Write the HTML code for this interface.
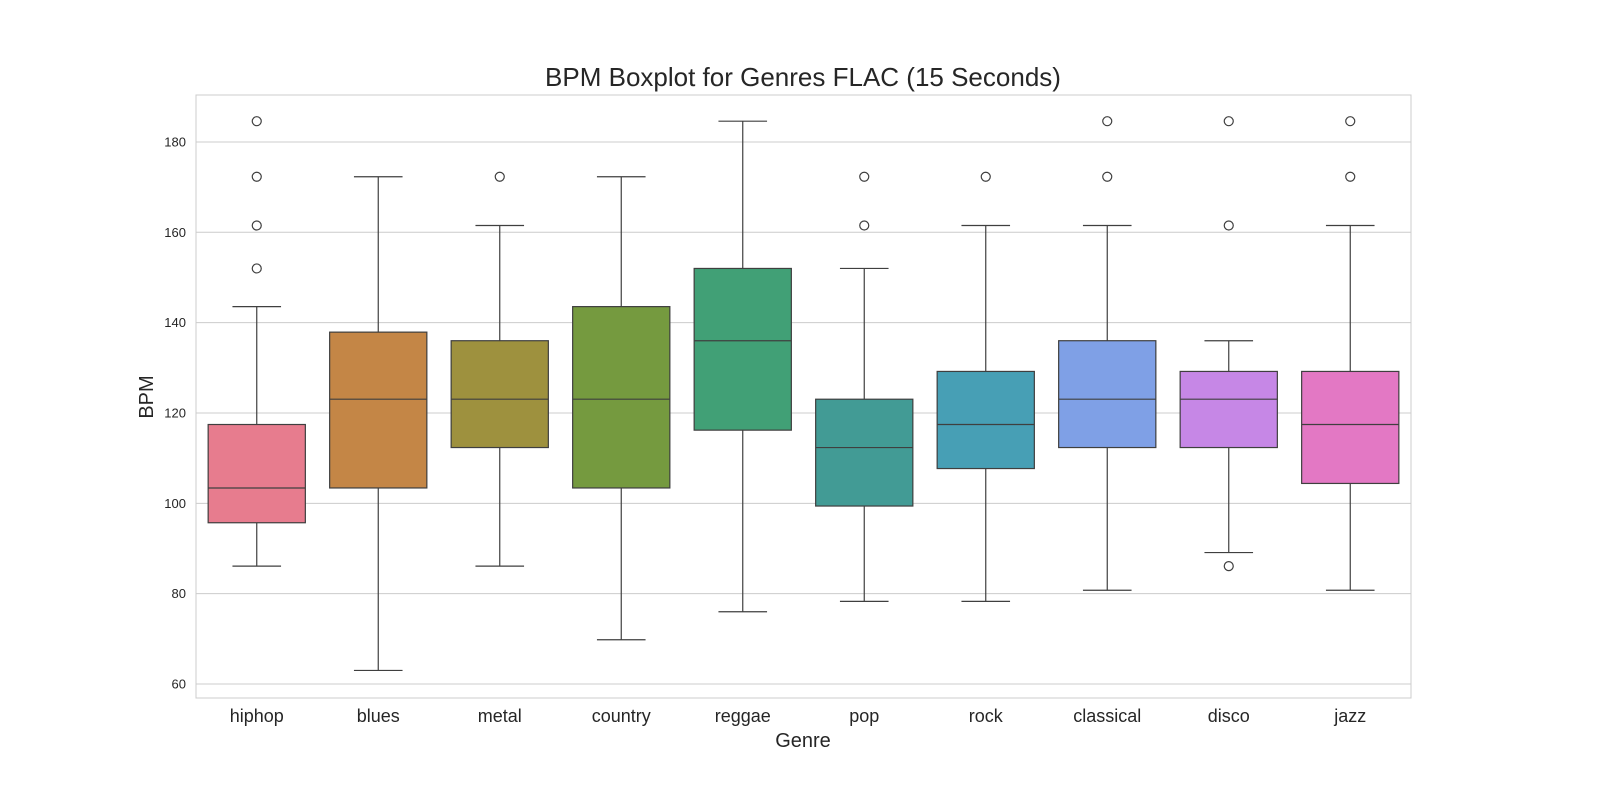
<!DOCTYPE html>
<html><head><meta charset="utf-8"><style>
html,body{margin:0;padding:0;background:#fff;}
svg{display:block;font-family:"Liberation Sans","DejaVu Sans",sans-serif;}
</style></head><body>
<svg id="chart" width="1600" height="800"></svg>
<script>
const categories=["hiphop","blues","metal","country","reggae","pop","rock","classical","disco","jazz"];
const whiskerLow=[86.1,63.0,86.1,69.8,76.0,78.3,78.3,80.75,89.1,80.75];
const q1=[95.7,103.4,112.35,103.4,116.2,99.4,107.7,112.35,112.35,104.4];
const medians=[103.4,123.05,123.05,123.05,136.0,112.35,117.45,123.05,123.05,117.45];
const q3=[117.45,137.9,136.0,143.55,152.0,123.05,129.2,136.0,129.2,129.2];
const whiskerHigh=[143.55,172.3,161.5,172.3,184.6,152.0,161.5,161.5,136.0,161.5];
const outliers=[[152,161.5,172.3,184.6],[],[172.3],[],[],[161.5,172.3],[172.3],[172.3,184.6],[86.1,161.5,184.6],[172.3,184.6]];
const colors=["#e77c8e","#c48646","#9e913e","#759a3f","#41a076","#429b95","#479fb5","#7fa0e6","#c687e6","#e378c4"];
const yTicks=[60,80,100,120,140,160,180];

const NS="http://www.w3.org/2000/svg";
const svg=document.getElementById("chart");
const L=196,R=1411,T=95,B=698;
const yMin=56.9,yMax=190.4;
function y(v){return B-(v-yMin)/(yMax-yMin)*(B-T);}
const band=(R-L)/categories.length;
function xc(i){return L+band*(i+0.5);}
function mk(tag,attrs,name,text){
  const e=document.createElementNS(NS,tag);
  for(const k in attrs)e.setAttribute(k,attrs[k]);
  
  
  if(text!==undefined)e.textContent=text;
  svg.appendChild(e);return e;
}
// grid
yTicks.forEach(t=>{
  const g=mk("line",{x1:L,x2:R,y1:y(t),y2:y(t),stroke:"#cccccc","stroke-width":1},"y-gridline");
  const lb=mk("text",{x:L-10,y:y(t)+4.5,"text-anchor":"end","font-size":13,fill:"#262626"},"y-tick-label",t);
});
mk("rect",{x:L,y:T,width:R-L,height:B-T,fill:"none",stroke:"#cccccc","stroke-width":1},"plot-frame");
const bw=band*0.8;
categories.forEach((c,i)=>{
  const x=xc(i);
  mk("line",{x1:x,x2:x,y1:y(whiskerHigh[i]),y2:y(q3[i]),stroke:"#3f3f3f","stroke-width":1.2},"whisker-upper");
  mk("line",{x1:x,x2:x,y1:y(q1[i]),y2:y(whiskerLow[i]),stroke:"#3f3f3f","stroke-width":1.2},"whisker-lower");
  mk("line",{x1:x-bw/4,x2:x+bw/4,y1:y(whiskerHigh[i]),y2:y(whiskerHigh[i]),stroke:"#3f3f3f","stroke-width":1.2},"cap-upper");
  mk("line",{x1:x-bw/4,x2:x+bw/4,y1:y(whiskerLow[i]),y2:y(whiskerLow[i]),stroke:"#3f3f3f","stroke-width":1.2},"cap-lower");
  mk("rect",{x:x-bw/2,y:y(q3[i]),width:bw,height:y(q1[i])-y(q3[i]),fill:colors[i],stroke:"#3f3f3f","stroke-width":1.2},"box-"+c);
  mk("line",{x1:x-bw/2,x2:x+bw/2,y1:y(medians[i]),y2:y(medians[i]),stroke:"#3f3f3f","stroke-width":1.2},"median-"+c);
  outliers[i].forEach(v=>{
    mk("circle",{cx:x,cy:y(v),r:4.5,fill:"none",stroke:"#3f3f3f","stroke-width":1.2},"outlier-"+c);
  });
  mk("text",{x:x,y:B+24,"text-anchor":"middle","font-size":18,fill:"#262626"},"x-tick-label",c);
});
mk("text",{x:803,y:86,"text-anchor":"middle","font-size":26,fill:"#262626"},"chart-title","BPM Boxplot for Genres FLAC (15 Seconds)");
mk("text",{x:803,y:747,"text-anchor":"middle","font-size":20,fill:"#262626"},"x-axis-title","Genre");
mk("text",{x:153,y:397,"text-anchor":"middle","font-size":20,fill:"#262626",transform:"rotate(-90 153 397)"},"y-axis-title","BPM");
</script>
</body></html>
